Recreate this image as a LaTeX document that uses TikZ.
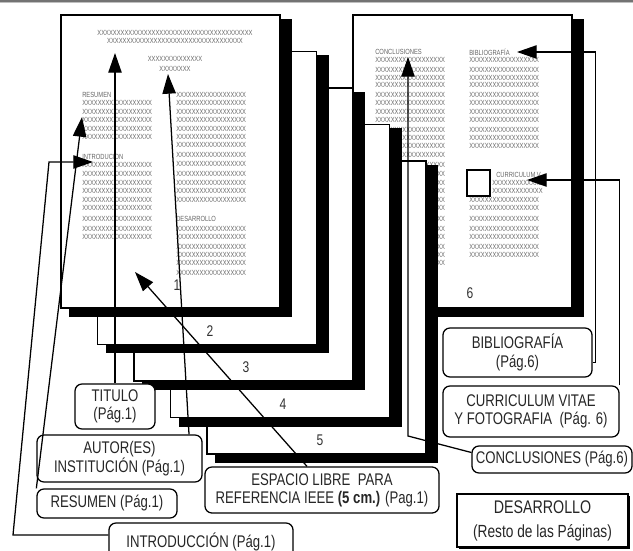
\documentclass[tikz,border=0pt]{standalone}
\usepackage{fontspec}
\usepackage{tikz}
\usetikzlibrary{arrows.meta,shadows}
\newfontfamily\narrowfont[FakeStretch=0.78]{Liberation Sans}
\newcommand{\hoja}[2]{%
	\fill[black] ({#1+8},{#2+4}) rectangle ({#1+231},{#2+302});
	\filldraw[fill=white,draw=black,line width=0.9pt] (#1,#2) rectangle ({#1+219},{#2+293});
}
\newcommand{\xdiez}{XXXXXXXXXX}
\newcommand{\xcol}{\xdiez XXXXXXXX}

\begin{document}
\begin{tikzpicture}[x=0.025cm,y=-0.025cm,
	xtxt/.style={inner sep=0pt,anchor=west,text=black!60,font={\narrowfont\fontsize{5.3}{6}\selectfont}},
	caja/.style={draw,line width=0.9pt,rounded corners=5pt,fill=white,align=center,inner sep=1pt,text=black!85,font={\narrowfont\fontsize{12}{13}\selectfont}},
	resto/.style={draw,line width=0.9pt,fill=white,align=center,inner sep=1pt,text=black!85,font={\narrowfont\fontsize{12.5}{17}\selectfont},drop shadow={shadow xshift=0.06cm,shadow yshift=-0.06cm,fill=black,opacity=1}},
	numero/.style={inner sep=0pt,text=black!80,font={\narrowfont\fontsize{11}{12}\selectfont}},
	flecha/.style={draw,line width=0.9pt,-{Triangle[length=14pt,width=9.5pt]}}]
	\useasboundingbox (0,0) rectangle (633,551);
	\fill[black!55] (0,0) rectangle (633,2);
	\fill[black!25] (0,2) rectangle (633,3);
	% hoja 6
	\hoja{353}{15}
	\node[xtxt] (conc) at (375,52) {CONCLUSIONES};
	\foreach \y in {60,70,78,85,95,103,112,120,130,138,146,155,165,174,183,191,200,208,219,229,237,247,255,263}
	{
		\node[xtxt] (c\y) at (375,\y) {\xcol};
	}
	\node[xtxt] (bibl) at (469,52) {BIBLIOGRAFÍA};
	\foreach \y in {60,70,78,85,95,103,112,120,130,138,146,200,208,219,229,237,247,255}
	{
		\node[xtxt] (b\y) at (469,\y) {\xcol};
	}
	\draw[line width=1pt] (467,170) rectangle (490,196);
	\node[xtxt] (curv) at (496,175) {CURRICULUM V};
	\foreach \y in {183,191}
	{
		\node[xtxt] (f\y) at (492,\y) {XXXXXXXXXXXXX};
	}
	% hojas 5 a 1
	\foreach \i in {5,4,3,2,1}
	{
		\pgfmathsetmacro{\hx}{61+36.5*(\i-1)}
		\pgfmathsetmacro{\hy}{15+36.5*(\i-1)}
		\hoja{\hx}{\hy}
	}
	\node[xtxt,anchor=center] (tit1) at (175,33) {\xdiez\xdiez\xdiez\xdiez};
	\node[xtxt,anchor=center] (tit2) at (175,41) {\xdiez\xdiez\xdiez XXXXX};
	\node[xtxt,anchor=center] (aut1) at (175,59) {\xdiez XXXX};
	\node[xtxt,anchor=center] (aut2) at (175,69) {XXXXXXXX};
	\node[xtxt] (resu) at (82,95) {RESUMEN};
	\node[xtxt] (intr) at (82,157) {INTRODUCION};
	\foreach \y in {103,112,120,129,137,165,174,183,191,200,208,219,229,237}
	{
		\node[xtxt] (iz\y) at (82,\y) {\xcol};
	}
	\node[xtxt] (desr) at (176,219) {DESARROLLO};
	\foreach \y in {95,103,112,120,129,137,145,155,164,174,183,191,200,229,237,247,255,263,273}
	{
		\node[xtxt] (de\y) at (176,\y) {\xcol};
	}
	\foreach \n/\x/\y in {1/177/285,2/210/331,3/246/367,4/283/404,5/320/440,6/470/293}
	{
		\node[numero] (n\n) at (\x,\y) {\n};
	}
	% recuadros
	\node[caja,minimum width=2cm,minimum height=1.125cm] (titulo) at (115,406.5) {TITULO\\(Pág.1)};
	\node[caja,minimum width=4.125cm,minimum height=1.175cm] (autor) at (119.5,458.5) {AUTOR(ES)\\INSTITUCIÓN (Pág.1)};
	\node[caja,minimum width=3.5cm,minimum height=0.725cm] (resumen) at (107,503.5) {RESUMEN (Pág.1)};
	\node[caja,minimum width=4.6cm,minimum height=0.925cm] (intro) at (201,541.5) {INTRODUCCIÓN (Pág.1)};
	\node[caja,minimum width=5.85cm,minimum height=1.15cm] (espacio) at (322,490) {ESPACIO LIBRE~~PARA\\REFERENCIA IEEE \textbf{(5 cm.)} (Pag.1)};
	\node[caja,minimum width=3.725cm,minimum height=1.225cm] (biblio) at (517.5,352.5) {BIBLIOGRAFÍA\\(Pág.6)};
	\node[caja,minimum width=4.4cm,minimum height=1.275cm] (curri) at (531,411.5) {CURRICULUM VITAE\\Y FOTOGRAFIA~~(Pág. 6)};
	\node[caja,minimum width=4cm,minimum height=0.675cm] (concl) at (552,459.5) {CONCLUSIONES (Pág.6)};
	\node[resto,minimum width=4.275cm,minimum height=1.325cm] (desa) at (542.5,520.5) {{\fontsize{13}{17}\selectfont DESARROLLO}\\(Resto de las Páginas)};
	% flechas
	\coordinate (pTit) at (115,53);
	\coordinate (pAut) at (168,74);
	\coordinate (pRes) at (82,117);
	\coordinate (iA) at (13,535);
	\coordinate (iB) at (49,162);
	\coordinate (pInt) at (93,162);
	\coordinate (pEsp) at (135,272);
	\coordinate (cA) at (408,436);
	\coordinate (pCon) at (408,57);
	\coordinate (pBib) at (517,52);
	\coordinate (pCur) at (527,180);
	\draw[flecha] (titulo.north) -- (pTit);
	\draw[flecha] ([xshift=1.7375cm]autor.north) -- (pAut);
	\draw[flecha] (resumen.north west) -- (pRes);
	\draw[flecha] ([yshift=0.165cm]intro.west) -- (iA) -- (iB) -- (pInt);
	\draw[flecha] ([xshift=-0.375cm]espacio.north) -- (pEsp);
	\draw[flecha] ([yshift=0.175cm]concl.west) -- (cA) -- (pCon);
	\draw[flecha] ([yshift=-0.25cm]biblio.east) -- ++(3,0) |- (pBib);
	\draw[flecha] (curri.north east) |- (pCur);
\end{tikzpicture}
\end{document}
